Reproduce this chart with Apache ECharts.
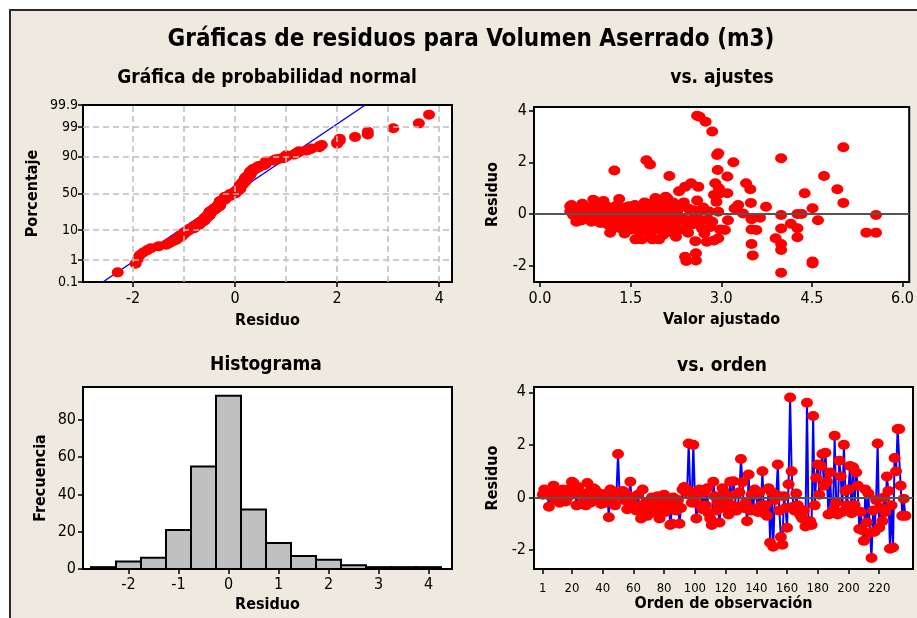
<!DOCTYPE html>
<html><head><meta charset="utf-8">
<script src="https://cdn.jsdelivr.net/npm/echarts@6/dist/echarts.min.js"></script>
<style>
html,body{margin:0;padding:0;background:#fff;overflow:hidden;width:917px;height:618px}
#bg{position:absolute;left:9px;top:9px;width:1000px;height:1000px;background:#EEEADF;border:2px solid #2a2a2a}
#c{position:absolute;left:0;top:0;width:917px;height:618px}
</style>
</head><body><div id="bg"></div><div id="c"></div>
<script>
// ---------- DATA ----------
// residuals in observation order (read from "vs. orden")
const residuosOrden = [
 0.1,0.3,0.15,0.25,-0.35,0.05,0.2,0.45,0.1,-0.1,
 0.2,-0.2,0.0,0.3,0.1,-0.15,0.25,0.05,0.35,0.6,
 0.55,0.2,-0.3,0.4,0.1,-0.25,0.15,0.0,-0.3,0.55,
 0.2,-0.2,0.1,0.35,0.3,-0.1,0.05,0.15,-0.25,0.0,
 0.1,-0.2,0.15,-0.75,0.3,0.25,0.0,-0.3,0.2,1.65,
 0.1,0.2,0.25,-0.1,0.15,-0.45,0.05,0.6,-0.2,0.0,
 -0.3,-0.5,0.1,-0.4,-0.8,0.3,-0.6,-0.2,-0.7,-0.35,
 -0.5,0.0,-0.45,-0.25,-0.6,0.05,-0.8,-0.3,-0.15,0.1,
 -0.55,-0.3,-0.2,-1.05,-1.0,0.0,-0.35,-0.5,-0.1,-1.0,
 -0.4,0.3,0.4,0.2,0.3,2.05,0.2,-0.2,2.0,0.1,
 -0.8,-0.25,0.3,0.15,-0.45,0.2,-0.3,0.35,-0.6,-0.8,
 -1.05,0.6,0.05,-0.5,-0.2,-0.95,-0.4,0.35,0.2,-0.3,
 -0.1,-0.65,0.6,-0.3,0.62,0.1,-0.5,-0.35,0.2,1.46,
 0.58,-0.4,-0.2,-0.9,0.87,-0.5,0.1,-0.45,0.3,0.1,
 -0.55,0.2,-0.3,1.0,-0.6,-0.3,-0.7,0.35,-1.72,0.2,
 -1.87,-0.1,0.1,1.25,-0.5,-1.5,-1.8,0.05,-0.4,-1.15,
 0.5,3.8,1.0,-0.35,-0.5,0.15,-0.3,-0.6,-0.7,-0.8,
 -0.5,-1.1,3.6,-1.0,-0.9,-1.05,3.1,-0.3,0.75,1.25,
 0.1,1.2,1.65,0.45,1.7,0.6,-0.65,0.95,-0.6,-0.5,
 2.35,-0.2,-0.65,1.4,0.8,-0.55,2.0,0.25,-0.3,0.3,
 1.2,-0.6,1.15,-0.3,0.95,0.45,-1.2,-0.55,-1.25,-1.65,
 0.3,-0.95,0.15,-1.35,-2.3,-0.5,-1.3,-0.1,2.05,-1.15,
 -0.4,-0.9,0.0,-0.55,0.8,0.25,-1.95,-0.3,-1.9,1.5,
 1.0,2.6,2.6,0.45,-0.7,-0.05,-0.7
];
// [valor ajustado, residuo] (read from "vs. ajustes")
const ajustesPuntos = [
 [0.50,0.30],[0.50,0.10],[0.52,0.35],[0.55,-0.05],[0.58,0.15],[0.60,-0.30],[0.62,0.20],[0.65,0.05],[0.68,-0.25],[0.70,0.40],
 [0.72,0.10],[0.75,-0.15],[0.78,0.25],[0.80,-0.05],[0.82,0.15],[0.85,-0.30],[0.88,0.55],[0.90,0.00],[0.92,0.30],[0.95,-0.20],
 [0.97,0.45],[0.98,0.10],
 [1.00,-0.35],[1.02,0.20],[1.04,-0.10],[1.05,0.50],[1.07,0.05],[1.08,-0.25],[1.10,0.30],[1.12,-0.40],[1.14,0.15],[1.16,-0.72],
 [1.18,0.00],[1.20,0.25],[1.22,-0.20],[1.23,1.68],[1.25,0.10],[1.27,-0.45],[1.28,0.35],[1.30,-0.10],[1.31,0.58],[1.33,-0.55],
 [1.35,0.20],[1.37,-0.30],[1.38,0.05],[1.40,-0.75],[1.42,0.25],[1.43,-0.15],[1.45,-0.50],[1.47,0.30],[1.48,-0.05],[1.50,-0.35],[1.50,0.15],
 [1.52,-0.60],[1.53,0.05],[1.55,-0.25],[1.57,0.35],[1.58,-0.98],[1.60,-0.10],[1.62,0.20],[1.63,-0.45],[1.65,-0.70],[1.67,0.00],
 [1.68,-0.98],[1.70,0.30],[1.72,-0.30],[1.73,0.45],[1.75,-0.55],[1.76,2.08],[1.78,0.10],[1.80,-0.20],[1.82,1.92],[1.83,-0.75],
 [1.85,0.40],[1.86,-0.98],[1.88,0.15],[1.90,-0.40],[1.91,0.62],[1.92,-0.10],[1.94,0.55],[1.95,-0.60],[1.97,-0.98],[1.98,0.25],[2.00,-0.30],
 [2.02,0.05],[2.04,-0.80],[2.05,0.40],[2.07,-0.20],[2.08,0.67],[2.10,-0.50],[2.11,0.60],[2.13,0.10],[2.14,1.47],[2.15,-0.35],
 [2.17,0.20],[2.18,-0.70],[2.20,0.45],[2.22,-0.05],[2.24,-0.45],[2.25,-0.88],[2.27,0.10],[2.29,-0.25],[2.30,0.88],[2.32,-0.60],
 [2.34,0.30],[2.36,-0.15],[2.38,0.45],[2.40,1.05],[2.40,-1.65],[2.42,-1.82],[2.43,-0.50],[2.45,-0.72],[2.46,0.20],[2.48,-0.30],[2.50,1.19],
 [2.52,-0.40],[2.54,0.15],[2.55,-0.10],[2.57,-1.05],[2.58,-1.52],[2.58,-1.80],[2.60,3.80],[2.60,0.52],[2.62,-0.37],[2.62,1.05],
 [2.64,3.76],[2.65,0.10],[2.67,-0.25],[2.68,-0.56],[2.70,0.25],[2.72,-0.75],[2.74,3.57],[2.76,-1.07],[2.78,-0.20],[2.80,0.10],
 [2.82,-0.50],[2.85,3.19],[2.85,-0.30],[2.88,0.74],[2.88,-1.02],[2.90,1.19],[2.92,0.47],[2.93,2.28],[2.94,1.70],[2.95,-0.94],
 [2.95,0.09],[2.96,1.00],[2.98,-0.60],[2.98,0.80],[2.95,2.35],
 [3.06,-0.62],[3.10,1.45],[3.10,0.80],[3.11,-0.24],[3.20,2.00],[3.22,0.21],[3.28,0.35],[3.36,0.02],[3.41,1.19],[3.48,0.96],
 [3.49,0.43],[3.50,-0.20],[3.50,-0.60],[3.50,-1.16],[3.52,-1.60],[3.58,-0.62],[3.64,-0.14],[3.74,0.28],[3.90,-0.94],[3.99,-0.04],
 [3.99,-0.56],[3.99,-1.16],[3.99,-1.39],[3.99,-2.27],[3.99,2.16],[4.15,-0.38],[4.26,-0.55],[4.26,-0.90],[4.26,0.00],[4.33,0.00],
 [4.38,0.80],[4.51,0.22],[4.51,-1.84],[4.51,-1.91],[4.60,-0.24],[4.70,1.47],[4.92,0.96],[5.02,2.58],[5.02,0.43],[5.40,-0.72],
 [5.56,-0.72],[5.56,-0.04]
];
// histogram
const histCentros = [-2.5,-2,-1.5,-1,-0.5,0,0.5,1,1.5,2,2.5,3,3.5,4];
const histFrecuencias = [1,4,6,21,55,93,32,14,7,5,2,1,1,1];
const histAncho = 0.5;
// fitted normal line on probability plot
const lineaResiduo = [-2.59, 2.55];
const lineaPorcentaje = [0.1, 99.9];
// tick labels
const porcentajeTicks = [0.1,1,10,50,90,99,99.9];
const probXTicks = [-2,0,2,4];
const probXGrid = [-2,-1,0,1,2,3,4];
const ajustesXTicks = [0,1.5,3,4.5,6];
const residuoTicks = [-2,0,2,4];
const histXTicks = [-2,-1,0,1,2,3,4];
const histYTicks = [0,20,40,60,80];
const ordenTicks = [1,20,40,60,80,100,120,140,160,180,200,220];

// ---------- helpers ----------
function probit(p){
 const a=[-3.969683028665376e+01,2.209460984245205e+02,-2.759285104469687e+02,1.383577518672690e+02,-3.066479806614716e+01,2.506628277459239e+00];
 const b=[-5.447609879822406e+01,1.615858368580409e+02,-1.556989798598866e+02,6.680131188771972e+01,-1.328068155288572e+01];
 const c=[-7.784894002430293e-03,-3.223964580411365e-01,-2.400758277161838e+00,-2.549732539343734e+00,4.374664141464968e+00,2.938163982698783e+00];
 const d=[7.784695709041462e-03,3.224671290700398e-01,2.445134137142996e+00,3.754408661907416e+00];
 const pl=0.02425; let q,r;
 if(p<pl){q=Math.sqrt(-2*Math.log(p));return (((((c[0]*q+c[1])*q+c[2])*q+c[3])*q+c[4])*q+c[5])/((((d[0]*q+d[1])*q+d[2])*q+d[3])*q+1);}
 if(p<=1-pl){q=p-0.5;r=q*q;return (((((a[0]*r+a[1])*r+a[2])*r+a[3])*r+a[4])*r+a[5])*q/(((((b[0]*r+b[1])*r+b[2])*r+b[3])*r+b[4])*r+1);}
 q=Math.sqrt(-2*Math.log(1-p));return -(((((c[0]*q+c[1])*q+c[2])*q+c[3])*q+c[4])*q+c[5])/((((d[0]*q+d[1])*q+d[2])*q+d[3])*q+1);
}
const zTicks = porcentajeTicks.map(p=>probit(p/100));
const sorted = residuosOrden.slice().sort((x,y)=>x-y);
const n = sorted.length;
const probData = sorted.map((r,i)=>[r, probit((i+1-0.3)/(n+0.4))]);
const lineData = lineaResiduo.map((x,i)=>[x, probit(lineaPorcentaje[i]/100)]);
const histData = histCentros.map((cc,i)=>[cc-histAncho/2, cc+histAncho/2, histFrecuencias[i]]);
const ordenData = residuosOrden.map((r,i)=>[i+1, r]);

const TICKFONT = '"Liberation Sans Narrow","DejaVu Sans Condensed","Liberation Sans",sans-serif';
const BOLDFONT = '"Liberation Sans Narrow","DejaVu Sans Condensed","Liberation Sans",sans-serif';
const ELLIPSE = 'path://M0 1A1 1 0 1 1 2 1A1 1 0 1 1 0 1Z';
const RED = '#FF0000', BLUE = '#0000FF';

function axisBase(extra){
 return Object.assign({
  type:'value',
  axisLine:{show:true,onZero:false,lineStyle:{color:'#000',width:2}},
  axisTick:{show:true,inside:false,length:5,lineStyle:{color:'#000',width:1.5}},
  splitLine:{show:false},
  nameLocation:'middle',
  nameTextStyle:{fontFamily:BOLDFONT,fontWeight:'bold',fontSize:16,color:'#000'}
 }, extra);
}
function lbl(vals, size, margin, fmt){
 const o = {customValues:vals, color:'#000', fontFamily:TICKFONT, fontSize:size, margin:margin};
 if(fmt) o.formatter = fmt;
 return o;
}
function ticks(vals){ return {show:true,inside:false,length:5,customValues:vals,lineStyle:{color:'#000',width:1.5}}; }

const gridBase = {show:true,backgroundColor:'#fff',borderColor:'#000',borderWidth:2,containLabel:false};

const option = {
 animation:false,
 backgroundColor:'transparent',
 grid:[
  Object.assign({left:83,top:105,width:369,height:177},gridBase),
  Object.assign({left:534,top:107,width:379,height:175},gridBase),
  Object.assign({left:83,top:387,width:369,height:182},gridBase),
  Object.assign({left:534,top:387,width:379,height:182},gridBase)
 ],
 xAxis:[
  axisBase({gridIndex:0,min:-2.98,max:4.25,name:'Residuo',nameGap:31,
   axisLabel:lbl(probXTicks,16,9),axisTick:ticks(probXTicks)}),
  axisBase({gridIndex:1,min:-0.1,max:6.11,name:'Valor ajustado',nameGap:30,
   axisLabel:lbl(ajustesXTicks,16,9,v=>v.toFixed(1)),axisTick:ticks(ajustesXTicks)}),
  axisBase({gridIndex:2,min:-2.91,max:4.47,name:'Residuo',nameGap:28,
   axisLabel:lbl(histXTicks,16,8),axisTick:ticks(histXTicks)}),
  axisBase({gridIndex:3,min:-4.7,max:242,name:'Orden de observación',nameGap:26,
   axisLabel:lbl(ordenTicks,13,13),axisTick:ticks(ordenTicks)})
 ],
 yAxis:[
  axisBase({gridIndex:0,min:zTicks[0],max:zTicks[zTicks.length-1],name:'Porcentaje',nameGap:42,
   axisLabel:lbl(zTicks,14,5,v=>{let best=0;zTicks.forEach((z,i)=>{if(Math.abs(z-v)<Math.abs(zTicks[best]-v))best=i;});return String(porcentajeTicks[best]);}),
   axisTick:ticks(zTicks)}),
  axisBase({gridIndex:1,min:-2.63,max:4.14,name:'Residuo',nameGap:33,
   axisLabel:lbl(residuoTicks,16,7),axisTick:ticks(residuoTicks)}),
  axisBase({gridIndex:2,min:0,max:97.7,name:'Frecuencia',nameGap:34,
   axisLabel:lbl(histYTicks,16,7),axisTick:ticks(histYTicks)}),
  axisBase({gridIndex:3,min:-2.72,max:4.2,name:'Residuo',nameGap:33,
   axisLabel:lbl(residuoTicks,16,8),axisTick:ticks(residuoTicks)})
 ],
 graphic:[
  {type:'text',x:471,y:40,z:100,style:{text:'Gráficas de residuos para Volumen Aserrado (m3)',fill:'#000',
   font:'bold 24px '+BOLDFONT,align:'center',verticalAlign:'middle',textAlign:'center',textVerticalAlign:'middle'}},
  {type:'text',x:267,y:78,z:100,style:{text:'Gráfica de probabilidad normal',fill:'#000',
   font:'bold 19px '+BOLDFONT,align:'center',verticalAlign:'middle',textAlign:'center',textVerticalAlign:'middle'}},
  {type:'text',x:722,y:78,z:100,style:{text:'vs. ajustes',fill:'#000',
   font:'bold 19px '+BOLDFONT,align:'center',verticalAlign:'middle',textAlign:'center',textVerticalAlign:'middle'}},
  {type:'text',x:266,y:365,z:100,style:{text:'Histograma',fill:'#000',
   font:'bold 19px '+BOLDFONT,align:'center',verticalAlign:'middle',textAlign:'center',textVerticalAlign:'middle'}},
  {type:'text',x:722,y:366,z:100,style:{text:'vs. orden',fill:'#000',
   font:'bold 19px '+BOLDFONT,align:'center',verticalAlign:'middle',textAlign:'center',textVerticalAlign:'middle'}}
 ],
 series:[
  {type:'line',xAxisIndex:0,yAxisIndex:0,data:[],silent:true,z:1,
   markLine:{silent:true,symbol:['none','none'],label:{show:false},animation:false,
    lineStyle:{color:'#BDBDBD',type:[6,4],width:1.5},
    data:probXGrid.map(v=>({xAxis:v})).concat(zTicks.slice(1,-1).map(v=>({yAxis:v})))}},
  {type:'line',xAxisIndex:0,yAxisIndex:0,data:lineData,showSymbol:false,z:2,
   lineStyle:{color:BLUE,width:1.5}},
  {type:'scatter',xAxisIndex:0,yAxisIndex:0,data:probData,z:3,symbol:ELLIPSE,symbolSize:[12,10],
   itemStyle:{color:RED,opacity:1}},

  {type:'line',xAxisIndex:1,yAxisIndex:1,data:[],silent:true,z:1,
   markLine:{silent:true,symbol:['none','none'],label:{show:false},animation:false,
    lineStyle:{color:'#555',type:'solid',width:2},data:[{yAxis:0}]}},
  {type:'scatter',xAxisIndex:1,yAxisIndex:1,data:ajustesPuntos,z:3,symbol:ELLIPSE,symbolSize:[12,10],
   itemStyle:{color:RED,opacity:1}},

  {type:'custom',xAxisIndex:2,yAxisIndex:2,data:histData,encode:{x:[0,1],y:2},z:2,
   renderItem:function(params,api){
    const p0=api.coord([api.value(0),api.value(2)]);
    const p1=api.coord([api.value(1),0]);
    return {type:'rect',shape:{x:p0[0],y:p0[1],width:p1[0]-p0[0],height:p1[1]-p0[1]},
     style:{fill:'#C0C0C0',stroke:'#000',lineWidth:2}};
   }},

  {type:'line',xAxisIndex:3,yAxisIndex:3,data:[],silent:true,z:1,
   markLine:{silent:true,symbol:['none','none'],label:{show:false},animation:false,
    lineStyle:{color:'#555',type:'solid',width:2},data:[{yAxis:0}]}},
  {type:'line',xAxisIndex:3,yAxisIndex:3,data:ordenData,z:3,symbol:ELLIPSE,symbolSize:[12,10],showSymbol:true,
   lineStyle:{color:BLUE,width:2},itemStyle:{color:RED,opacity:1}}
 ]
};
const chart = echarts.init(document.getElementById('c'),null,{renderer:'canvas'});
chart.setOption(option);
</script>
</body></html>
